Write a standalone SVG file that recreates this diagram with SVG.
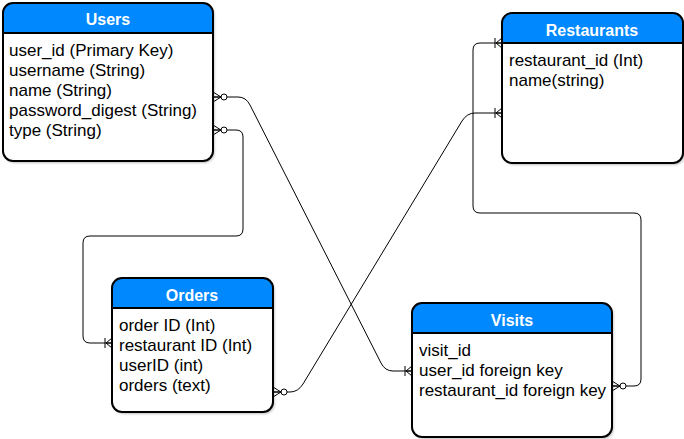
<svg xmlns="http://www.w3.org/2000/svg" width="684" height="439" viewBox="0 0 684 439">
<style>
.box{fill:#fff;stroke:none}
.outline{fill:none;stroke:#000;stroke-width:2}
.hdr{fill:#0088FF}
.sep{stroke:#000;stroke-width:2}
.title{font-family:"Liberation Sans",Arial,sans-serif;font-size:16px;font-weight:bold;fill:#fff;text-anchor:middle}
.item{font-family:"Liberation Sans",Arial,sans-serif;font-size:17px;fill:#000}
.conn{fill:none;stroke:#000;stroke-width:1;marker-start:url(#zeroMany);marker-end:url(#oneMany)}
</style>
<defs>
<filter id="sh" x="-10%" y="-10%" width="120%" height="120%">
<feDropShadow dx="1.5" dy="2" stdDeviation="1.2" flood-color="#000" flood-opacity="0.25"/>
</filter>
<marker id="zeroMany" markerUnits="userSpaceOnUse" viewBox="-16 -8 18 16" refX="0" refY="0" markerWidth="18" markerHeight="16" orient="auto-start-reverse" overflow="visible">
<path d="M-8,0 L0,-5 M-8,0 L0,0 M-8,0 L0,5" fill="none" stroke="#000" stroke-width="1"/>
<circle cx="-11" cy="0" r="3" fill="#fff" stroke="#000" stroke-width="1"/>
</marker>
<marker id="oneMany" markerUnits="userSpaceOnUse" viewBox="-16 -8 18 16" refX="0" refY="0" markerWidth="18" markerHeight="16" orient="auto-start-reverse" overflow="visible">
<path d="M-6,0 L0,-5 M-6,0 L0,0 M-6,0 L0,5 M-7,-5 L-7,5" fill="none" stroke="#000" stroke-width="1"/>
</marker>
</defs>

<g id="connectors">
<path class="conn" d="M213,97 L238,97 Q246,97 250,105 L381,363 Q385,371 393,371 L412,371"/>
<path class="conn" d="M213,130 L236,130 Q243,130 243,137 L243,229 Q243,236 236,236 L90,236 Q83,236 83,243 L83,336 Q83,343 90,343 L112,343"/>
<path class="conn" d="M273,392 L290,392 Q298,392 303,384 L462,121 Q467,113 475,113 L502,113"/>
<path class="conn" d="M612,386 L634,386 Q641,386 641,379 L641,220 Q641,213 634,213 L480,213 Q473,213 473,206 L473,50 Q473,43 480,43 L502,43"/>
</g>

<g id="users">
<rect class="box" x="3" y="3" width="210" height="158" rx="10" filter="url(#sh)"/>
<path class="hdr" d="M3,33 L3,13 A10,10 0 0 1 13,3 L203,3 A10,10 0 0 1 213,13 L213,33 Z"/>
<line class="sep" x1="3" y1="33" x2="213" y2="33"/>
<rect class="outline" x="3" y="3" width="210" height="158" rx="10"/>
<text class="title" x="108" y="25">Users</text>
<text class="item" x="9" y="56">user_id (Primary Key)</text>
<text class="item" x="9" y="76">username (String)</text>
<text class="item" x="9" y="96">name (String)</text>
<text class="item" x="9" y="116">password_digest (String)</text>
<text class="item" x="9" y="136">type (String)</text>
</g>

<g id="restaurants">
<rect class="box" x="502" y="13" width="181" height="150" rx="10" filter="url(#sh)"/>
<path class="hdr" d="M502,43 L502,23 A10,10 0 0 1 512,13 L673,13 A10,10 0 0 1 683,23 L683,43 Z"/>
<line class="sep" x1="502" y1="43" x2="683" y2="43"/>
<rect class="outline" x="502" y="13" width="181" height="150" rx="10"/>
<text class="title" x="592" y="36">Restaurants</text>
<text class="item" x="509" y="66">restaurant_id (Int)</text>
<text class="item" x="509" y="86">name(string)</text>
</g>

<g id="orders">
<rect class="box" x="112" y="278" width="161" height="134" rx="10" filter="url(#sh)"/>
<path class="hdr" d="M112,308 L112,288 A10,10 0 0 1 122,278 L263,278 A10,10 0 0 1 273,288 L273,308 Z"/>
<line class="sep" x1="112" y1="308" x2="273" y2="308"/>
<rect class="outline" x="112" y="278" width="161" height="134" rx="10"/>
<text class="title" x="192" y="301">Orders</text>
<text class="item" x="119" y="331">order ID (Int)</text>
<text class="item" x="119" y="351">restaurant ID (Int)</text>
<text class="item" x="119" y="371">userID (int)</text>
<text class="item" x="119" y="391">orders (text)</text>
</g>

<g id="visits">
<rect class="box" x="412" y="303" width="200" height="134" rx="10" filter="url(#sh)"/>
<path class="hdr" d="M412,333 L412,313 A10,10 0 0 1 422,303 L602,303 A10,10 0 0 1 612,313 L612,333 Z"/>
<line class="sep" x1="412" y1="333" x2="612" y2="333"/>
<rect class="outline" x="412" y="303" width="200" height="134" rx="10"/>
<text class="title" x="512" y="326">Visits</text>
<text class="item" x="419" y="356">visit_id</text>
<text class="item" x="419" y="376">user_id foreign key</text>
<text class="item" x="419" y="396">restaurant_id foreign key</text>
</g>
</svg>
